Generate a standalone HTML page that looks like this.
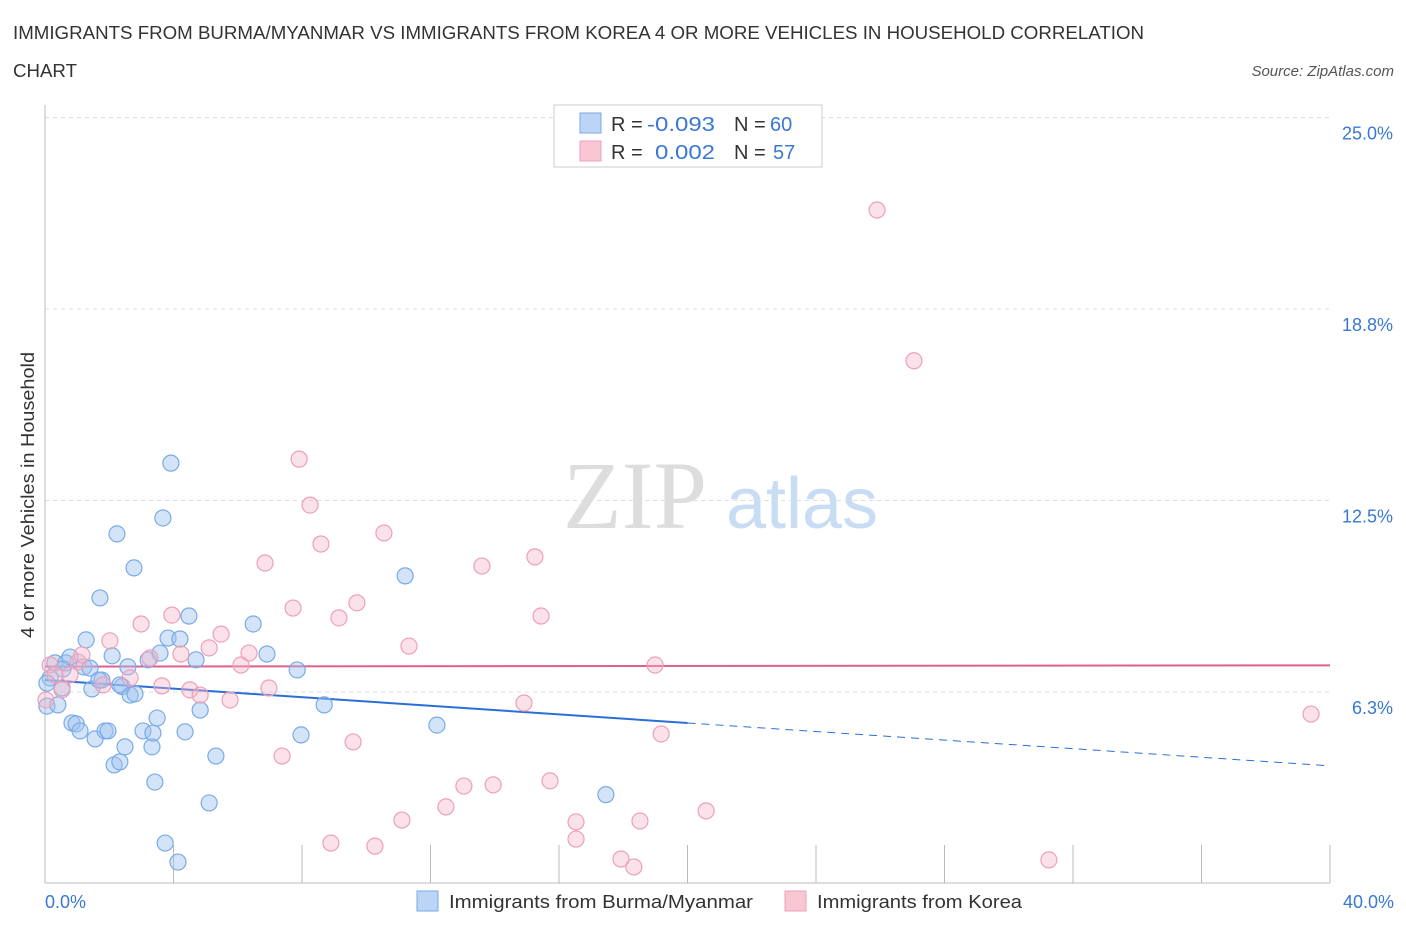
<!DOCTYPE html>
<html><head><meta charset="utf-8"><style>
body{margin:0;background:#fff;font-family:"Liberation Sans",sans-serif;}
svg text{font-family:"Liberation Sans",sans-serif;}
</style></head><body>
<svg id="chart" width="1406" height="930" xmlns="http://www.w3.org/2000/svg">
<text x="13" y="39" font-size="18" fill="#333" textLength="1131" lengthAdjust="spacingAndGlyphs">IMMIGRANTS FROM BURMA/MYANMAR VS IMMIGRANTS FROM KOREA 4 OR MORE VEHICLES IN HOUSEHOLD CORRELATION</text>
<text x="13" y="77" font-size="18" fill="#333" textLength="64" lengthAdjust="spacingAndGlyphs">CHART</text>
<text x="1394" y="76" font-size="15" fill="#555" font-style="italic" text-anchor="end">Source: ZipAtlas.com</text>
<g>
<text x="635" y="528" font-size="96" fill="#ddd" font-family="Liberation Serif" text-anchor="middle" style="font-family:'Liberation Serif',serif">ZIP</text>
<text x="802" y="528" font-size="72" fill="#c8dcf4" text-anchor="middle">atlas</text>
</g>
<g id="grid"></g>
<g id="axes"></g>
<g id="lines"></g>
<g id="points"></g>
<text x="34" y="495" font-size="18" fill="#333" text-anchor="middle" textLength="286" lengthAdjust="spacingAndGlyphs" transform="rotate(-90 34 495)">4 or more Vehicles in Household</text>
<text x="45" y="908" font-size="18" fill="#3a78d4">0.0%</text>
<text x="1394" y="908" font-size="18" fill="#3a78d4" text-anchor="end">40.0%</text>
<g>
<rect x="554" y="105" width="268" height="62" fill="#fff" stroke="#ccc"/>
<rect x="580" y="113" width="21" height="20" fill="#bcd4f5" stroke="#7aaae6"/>
<rect x="580" y="141" width="21" height="20" fill="#f9c6d4" stroke="#eda0b8"/>
<text x="611" y="131" font-size="20" fill="#333">R =</text><text x="647" y="131" font-size="20" fill="#3a78d4" textLength="68" lengthAdjust="spacingAndGlyphs">-0.093</text>
<text x="734" y="131" font-size="20" fill="#333">N =</text><text x="770" y="131" font-size="20" fill="#3a78d4">60</text>
<text x="611" y="159" font-size="20" fill="#333">R =</text><text x="655" y="159" font-size="20" fill="#3a78d4" textLength="60" lengthAdjust="spacingAndGlyphs">0.002</text>
<text x="734" y="159" font-size="20" fill="#333">N =</text><text x="773" y="159" font-size="20" fill="#3a78d4">57</text>
</g>
<g>
<rect x="417" y="891" width="21" height="20" fill="#bcd4f5" stroke="#7aaae6"/>
<text x="449" y="908" font-size="18" fill="#333" textLength="304" lengthAdjust="spacingAndGlyphs">Immigrants from Burma/Myanmar</text>
<rect x="785" y="891" width="21" height="20" fill="#f9c6d4" stroke="#eda0b8"/>
<text x="817" y="908" font-size="18" fill="#333" textLength="205" lengthAdjust="spacingAndGlyphs">Immigrants from Korea</text>
</g>
</svg>
<script>
const yTicks=[6.25,12.5,18.75,25];
const yTickLabels=["6.3%","12.5%","18.8%","25.0%"];
const xTicks=[0,4,8,12,16,20,24,28,32,36,40];
const blueX=[0.06,0.16,0.31,0.40,0.53,0.65,0.78,0.84,0.97,1.09,1.21,1.28,1.40,1.46,1.56,1.71,1.77,1.87,1.96,2.09,2.15,2.24,2.33,2.40,2.49,2.58,2.65,2.77,2.80,3.05,3.21,3.33,3.36,3.42,3.49,3.58,3.67,3.74,3.83,3.92,4.14,4.20,4.36,4.48,4.70,4.83,5.11,5.32,6.48,6.91,7.85,7.97,8.69,11.21,12.20,17.46,0.56,1.68,2.33,0.06];
const blueY=[5.79,6.71,7.20,5.83,6.38,7.20,7.39,5.24,5.21,4.98,7.07,7.95,7.03,6.35,4.72,9.32,6.64,4.98,4.98,7.43,3.87,11.41,3.97,6.43,4.46,7.07,6.15,10.30,6.19,4.98,7.30,4.46,4.91,3.31,5.40,7.52,11.93,1.32,8.01,13.72,0.70,7.98,4.95,8.73,7.30,5.66,2.63,4.16,8.47,7.49,6.97,4.85,5.83,10.04,5.17,2.90,7.00,6.64,6.48,6.54];
const pinkX=[0.16,0.31,0.53,0.78,1.03,1.15,1.81,2.02,2.65,2.99,3.27,3.64,3.95,4.23,4.51,4.83,5.11,5.48,5.76,6.10,6.35,6.85,6.97,7.38,7.72,7.91,8.25,8.59,8.90,9.15,9.59,9.71,10.27,10.55,11.11,11.33,12.48,13.04,13.60,13.95,14.91,15.25,15.44,15.72,16.53,16.53,17.93,18.33,18.52,19.18,18.99,20.58,25.90,27.05,31.25,39.41,0.03];
const pinkY=[7.13,6.81,6.32,6.81,7.23,7.46,6.48,7.92,6.71,8.47,7.36,6.45,8.76,7.49,6.32,6.15,7.69,8.14,5.99,7.13,7.52,10.46,6.38,4.16,8.99,13.85,12.35,11.08,1.32,8.67,4.62,9.16,1.22,11.44,2.07,7.75,2.50,3.18,10.36,3.22,5.89,10.66,8.73,3.35,2.01,1.45,0.80,0.54,2.04,4.88,7.13,2.37,21.98,17.06,0.77,5.53,5.99];
const blueTrend=[6.64,-0.07];
const pinkTrend=[7.08,0.001];
const NS="http://www.w3.org/2000/svg";
const X=v=>45+v/40*1285;
const Y=v=>883.5-v/6.25*191.5;
function mk(tag,attrs,parent){const e=document.createElementNS(NS,tag);for(const k in attrs)e.setAttribute(k,attrs[k]);document.getElementById(parent).appendChild(e);return e;}
yTicks.forEach((t,i)=>{
 const l=mk('line',{x1:45,x2:1330,y1:Y(t),y2:Y(t),stroke:'#ddd','stroke-dasharray':'4,4'},'grid');
 
 
 const tx=mk('text',{x:1393,y:Y(t)+22,'font-size':18,fill:'#3a78d4','text-anchor':'end'},'grid');
 tx.textContent=yTickLabels[i];
 
 
});
const ax=mk('line',{x1:45,x2:45,y1:105,y2:883,stroke:'#bbb'},'axes');


const bx=mk('line',{x1:45,x2:1330,y1:883,y2:883,stroke:'#bbb'},'axes');


xTicks.forEach(t=>{
 const l=mk('line',{x1:X(t),x2:X(t),y1:845,y2:883,stroke:'#bbb'},'axes');
 
 
});
function pts(xs,ys,fill,stroke,name){
 xs.forEach((x,i)=>{
  const c=mk('circle',{cx:X(x),cy:Y(ys[i]),r:8,fill:fill,stroke:stroke,'stroke-width':1.2},'points');
  
  
 });
}
pts(blueX,blueY,'rgba(160,195,240,0.45)','#7aaae6','burma-point');
pts(pinkX,pinkY,'rgba(245,180,200,0.4)','#eda0b8','korea-point');
const bl=mk('line',{x1:X(0),y1:Y(blueTrend[0]),x2:X(20),y2:Y(blueTrend[0]+20*blueTrend[1]),stroke:'#2a6fd6','stroke-width':2},'lines');


const bd=mk('line',{x1:X(20),y1:Y(blueTrend[0]+20*blueTrend[1]),x2:X(40),y2:Y(blueTrend[0]+40*blueTrend[1]),stroke:'#2a6fd6','stroke-width':1,'stroke-dasharray':'8,6'},'lines');


const pl=mk('line',{x1:X(0),y1:Y(pinkTrend[0]),x2:X(40),y2:Y(pinkTrend[0]+40*pinkTrend[1]),stroke:'#e0608a','stroke-width':2},'lines');


</script>
</body></html>
